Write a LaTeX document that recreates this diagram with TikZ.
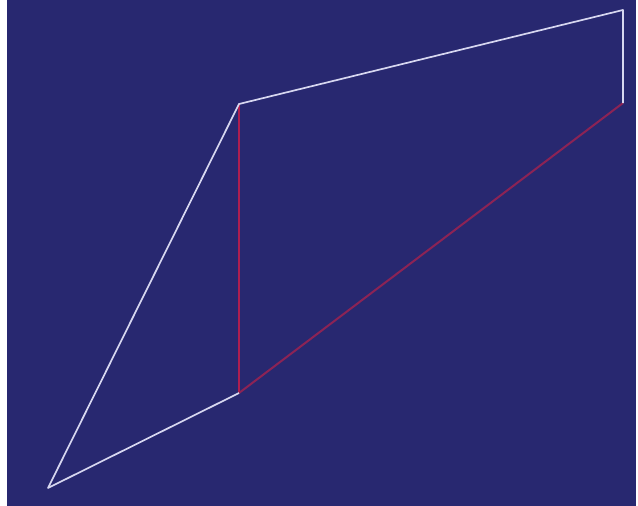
\documentclass[tikz,border=0pt]{standalone}
\definecolor{bgblue}{RGB}{40,40,112}
\definecolor{wline}{RGB}{215,215,240}
\definecolor{rline}{RGB}{175,30,80}
\definecolor{rline2}{RGB}{140,35,85}
\begin{document}
\begin{tikzpicture}[x=1pt,y=-1pt,
  wseg/.style={draw=wline,line width=1.7pt},
  rseg/.style={draw=rline,line width=2pt}]
\useasboundingbox (0,0) rectangle (638,506);
\fill[white] (0,0) rectangle (638,506);
\fill[bgblue] (7,0) rectangle (636,506);
\coordinate (A) at (48,488);
\coordinate (B) at (239,393);
\coordinate (C) at (239,104);
\coordinate (D) at (623,10);
\coordinate (E) at (623,103);
\draw[rseg] (C) -- (B);
\draw[rseg,draw=rline2] (B) -- (E);
\draw[wseg,line join=round] (B) -- (A) -- (C) -- (D) -- (E);
\end{tikzpicture}
\end{document}
